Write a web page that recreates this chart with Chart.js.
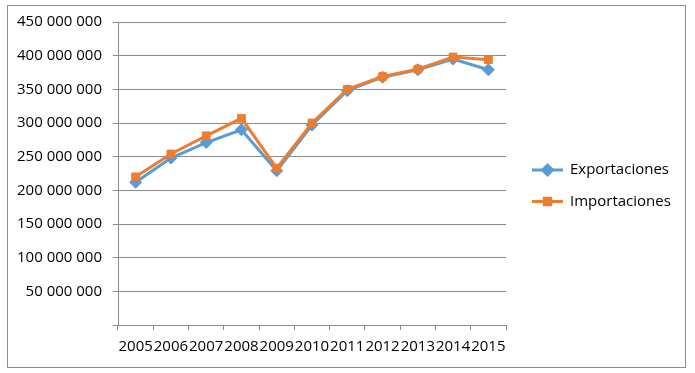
<!DOCTYPE html>
<html>
<head>
<meta charset="utf-8">
<script src="https://cdn.jsdelivr.net/npm/chart.js@4.4.0/dist/chart.umd.min.js"></script>
<style>
  html, body { margin: 0; padding: 0; background: #fff; }
  #wrap { position: absolute; left: 0; top: 0; width: 695px; height: 373px; }
</style>
</head>
<body>
<div id="wrap"><canvas id="chart" width="695" height="373"></canvas></div>
<script>
// data
const years = ['2005', '2006', '2007', '2008', '2009', '2010', '2011', '2012', '2013', '2014', '2015'];
const exportaciones = [212000000, 248000000, 271000000, 290000000, 229000000, 297000000, 348000000, 368000000, 379000000, 395000000, 379000000];
const importaciones = [220000000, 254000000, 281000000, 307000000, 233000000, 300000000, 350000000, 369000000, 380000000, 398000000, 394000000];
const yTicks = [0, 50000000, 100000000, 150000000, 200000000, 250000000, 300000000, 350000000, 400000000, 450000000];

const BLUE = '#5b9bd5';
const ORANGE = '#ed7d31';
const GRID = '#8a8a8a';
const FONT = '"Open Sans", sans-serif';

function fmt(v) {
  if (v === 0) return '';
  return String(v).replace(/\B(?=(\d{3})+(?!\d))/g, ' ');
}

// outer frame like the office chart border
const framePlugin = {
  id: 'frame',
  beforeDraw(chart) {
    const ctx = chart.ctx;
    ctx.save();
    ctx.fillStyle = '#fff';
    ctx.fillRect(0, 0, chart.width, chart.height);
    ctx.strokeStyle = '#8c8c8c';
    ctx.lineWidth = 1;
    ctx.strokeRect(7.5, 5.5, 678, 362);
    ctx.restore();
  }
};

// legend with marker on the line, drawn on the right
const sideLegend = {
  id: 'sideLegend',
  afterDraw(chart) {
    const ctx = chart.ctx;
    const items = [0, 1];
    ctx.save();
    items.forEach((dsIndex, i) => {
      const ds = chart.data.datasets[dsIndex];
      const y = 170 + i * 31.5;
      ctx.strokeStyle = ds.borderColor;
      ctx.lineWidth = 3;
      ctx.beginPath();
      ctx.moveTo(532, y);
      ctx.lineTo(563, y);
      ctx.stroke();
      Chart.helpers.drawPoint(ctx, {
        pointStyle: ds.pointStyle,
        radius: ds.pointRadius - 1,
        borderWidth: 1
      }, 547.5, y);
      ctx.fillStyle = ds.borderColor;
      ctx.fill();
      ctx.fillStyle = '#000';
      ctx.font = '15px ' + FONT;
      ctx.textBaseline = 'middle';
      ctx.textAlign = 'left';
      ctx.fillText(ds.label, 570, y);
    });
    ctx.restore();
  }
};

new Chart(document.getElementById('chart'), {
  type: 'line',
  data: {
    labels: years,
    datasets: [
      {
        label: 'Exportaciones',
        data: exportaciones,
        borderColor: BLUE,
        backgroundColor: BLUE,
        borderWidth: 3,
        pointStyle: 'rectRot',
        pointRadius: 6,
        pointBorderWidth: 1,
        tension: 0,
        order: 1
      },
      {
        label: 'Importaciones',
        data: importaciones,
        borderColor: ORANGE,
        backgroundColor: ORANGE,
        borderWidth: 3,
        pointStyle: 'rect',
        pointRadius: 5.5,
        pointBorderWidth: 1,
        tension: 0,
        order: 0
      }
    ]
  },
  options: {
    responsive: false,
    animation: false,
    layout: { padding: { left: 0, top: 22, right: 189, bottom: 0 } },
    plugins: {
      legend: { display: false },
      tooltip: { enabled: false }
    },
    scales: {
      x: {
        offset: true,
        grid: {
          offset: true,
          drawOnChartArea: false,
          drawTicks: true,
          tickLength: 5,
          color: GRID
        },
        border: { display: true, color: GRID, width: 1 },
        ticks: {
          color: '#000',
          font: { family: FONT, size: 15 },
          maxRotation: 0,
          autoSkip: false,
          padding: 8
        },
        afterFit(scale) { scale.height = 48; }
      },
      y: {
        min: 0,
        max: 450000000,
        afterBuildTicks(scale) {
          scale.ticks = yTicks.map(v => ({ value: v }));
        },
        grid: {
          color: GRID,
          lineWidth: 1,
          drawTicks: true,
          tickLength: 5
        },
        border: { display: true, color: GRID, width: 1 },
        ticks: {
          color: '#000',
          font: { family: FONT, size: 15 },
          padding: 11,
          callback: v => fmt(v)
        },
        afterFit(scale) { scale.width = 118; }
      }
    }
  },
  plugins: [framePlugin, sideLegend]
});
</script>
</body>
</html>
